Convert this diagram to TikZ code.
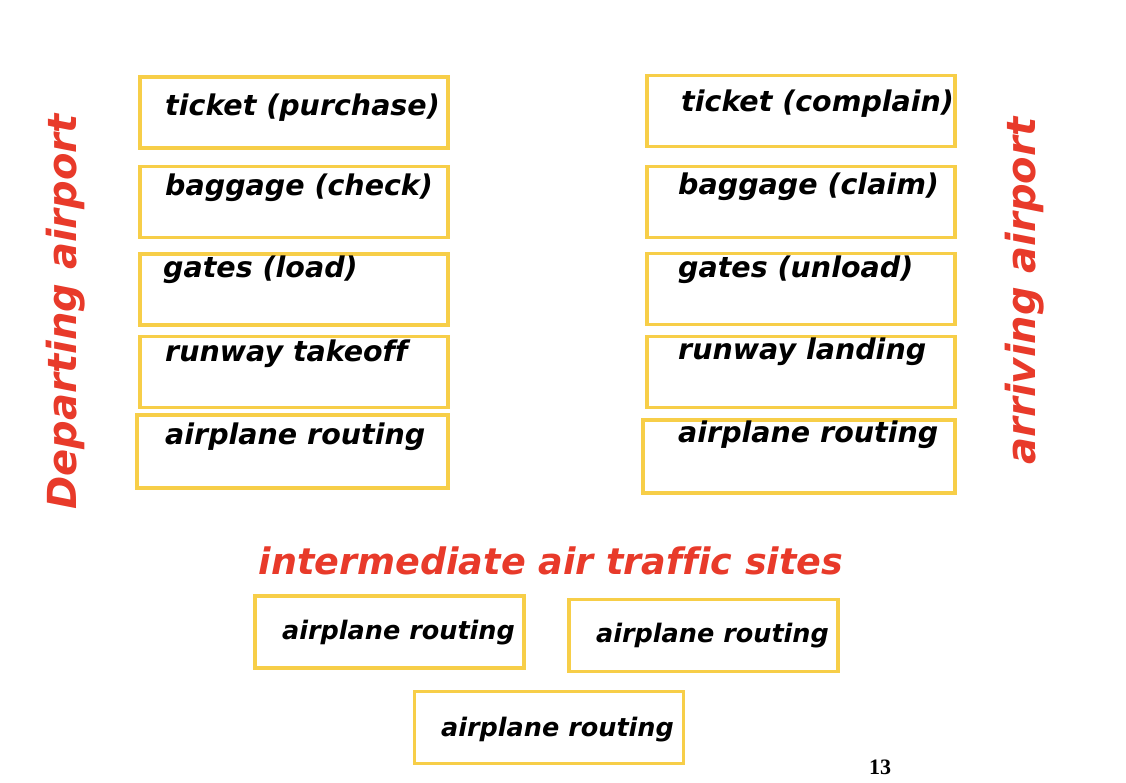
\documentclass[tikz,border=0pt]{standalone}
\usepackage{fontspec}
\setmainfont{DejaVu Sans}[Ligatures=CommonOff]
\newfontfamily\pagenumfont{Liberation Serif}
\definecolor{boxgold}{RGB}{247,206,72}
\definecolor{sitered}{RGB}{232,58,42}

\def \slotLine {3.5pt}

\begin{document}
\begin{tikzpicture}[x=1pt, y=-1pt,
   slot/.style={draw=boxgold, line width=\slotLine, minimum width=308pt, minimum height=71pt, inner sep=0pt},
   task/.style={anchor=west, inner sep=0pt, font=\fontsize{28.5}{30}\selectfont\bfseries\itshape},
   side/.style={text=sitered, rotate=90, inner sep=0pt, font=\fontsize{40}{44}\selectfont\bfseries\itshape}]

   \useasboundingbox (0,0) rectangle (1126,782);

   % departing airport
   \begin{scope}
      \node[slot] (dep1) at (294,112.5) {};
      \node[slot] (dep2) at (294,202) {};
      \node[slot] (dep3) at (294,289.5) {};
      \node[slot] (dep4) at (294,372) {};
      \node[slot, minimum width=311pt, minimum height=73pt] (dep5) at (292.5,451.5) {};
      \node[task] (dep1t) at (165,108) {ticket (purchase)};
      \node[task] (dep2t) at (165,188) {baggage (check)};
      \node[task] (dep3t) at (163,270) {gates (load)};
      \node[task] (dep4t) at (165,354) {runway takeoff};
      \node[task] (dep5t) at (165,437) {airplane routing};
      \node[side] (deplbl) at (66,312) {Departing airport};
   \end{scope}

   % arriving airport
   \begin{scope}
      \node[slot] (arr1) at (801,111) {};
      \node[slot] (arr2) at (801,202) {};
      \node[slot] (arr3) at (801,289) {};
      \node[slot] (arr4) at (801,372) {};
      \node[slot, minimum width=312pt, minimum height=73pt] (arr5) at (799,456.5) {};
      \node[task] (arr1t) at (681,104) {ticket (complain)};
      \node[task] (arr2t) at (678,187) {baggage (claim)};
      \node[task] (arr3t) at (678,270) {gates (unload)};
      \node[task] (arr4t) at (678,352) {runway landing};
      \node[task] (arr5t) at (678,435) {airplane routing};
      \node[side] (arrlbl) at (1025,291) {arriving airport};
   \end{scope}

   % intermediate sites
   \begin{scope}
      \node[text=sitered, inner sep=0pt, font=\fontsize{36.5}{40}\selectfont\bfseries\itshape] (midlbl) at (551,561) {intermediate air traffic sites};
      \node[slot, minimum width=269pt, minimum height=72pt] (mid1) at (389.5,632) {};
      \node[slot, minimum width=269pt, minimum height=72pt] (mid2) at (703.5,635.5) {};
      \node[slot, minimum width=269pt, minimum height=72pt] (mid3) at (549,727.5) {};
      \node[task, font=\fontsize{25.5}{28}\selectfont\bfseries\itshape] (mid1t) at (282,633) {airplane routing};
      \node[task, font=\fontsize{25.5}{28}\selectfont\bfseries\itshape] (mid2t) at (596,636) {airplane routing};
      \node[task, font=\fontsize{25.5}{28}\selectfont\bfseries\itshape] (mid3t) at (441,730) {airplane routing};
   \end{scope}

   \node[inner sep=0pt, font=\pagenumfont\fontsize{22}{24}\selectfont\bfseries] (pagenum) at (880,767) {13};

\end{tikzpicture}
\end{document}
